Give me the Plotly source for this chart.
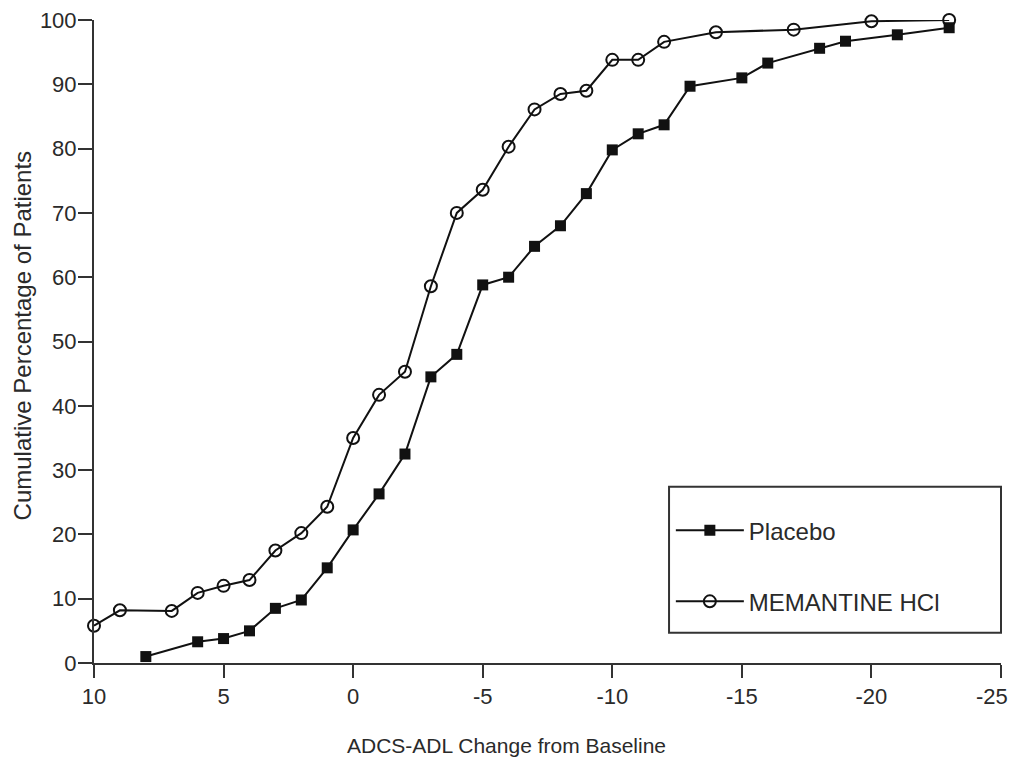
import plotly.graph_objects as go

# Data
placebo_x = [8, 6, 5, 4, 3, 2, 1, 0, -1, -2, -3, -4, -5, -6, -7, -8, -9, -10, -11, -12,
             -13, -15, -16, -18, -19, -21, -23]
placebo_y = [1.0, 3.3, 3.8, 5.0, 8.5, 9.8, 14.8, 20.7, 26.3, 32.5, 44.5, 48.0, 58.8, 60.0,
             64.8, 68.0, 73.0, 79.8, 82.3, 83.7, 89.7, 91.0, 93.3, 95.6, 96.7, 97.7, 98.8]

mem_x = [10, 9, 7, 6, 5, 4, 3, 2, 1, 0, -1, -2, -3, -4, -5, -6, -7, -8, -9, -10, -11, -12,
         -14, -17, -20, -23]
mem_y = [5.8, 8.2, 8.1, 10.9, 12.0, 12.9, 17.5, 20.2, 24.3, 35.0, 41.7, 45.3, 58.6, 70.0,
         73.6, 80.3, 86.1, 88.5, 89.0, 93.8, 93.8, 96.6, 98.1, 98.5, 99.8, 100.0]

x_ticks = [10, 5, 0, -5, -10, -15, -20, -25]
x_ticklabels = ["10", "5", "0", "-5", "-10", "-15", "-20", "-25"]
y_ticks = [0, 10, 20, 30, 40, 50, 60, 70, 80, 90, 100]

FONT = "Liberation Sans, Arial, Helvetica, sans-serif"
INK = "#2a2a2a"

# the last x tick label sits at the figure's right edge: draw it as an annotation nudged inward
axis_ticktext = x_ticklabels[:-1] + [""]

fig = go.Figure()
fig.add_trace(go.Scatter(
    x=placebo_x, y=placebo_y, mode="lines+markers", name="Placebo",
    legendgroup="a",
    line=dict(color="#111111", width=2),
    marker=dict(symbol="square", size=11, color="#111111"),
    cliponaxis=False,
))
fig.add_trace(go.Scatter(
    x=mem_x, y=mem_y, mode="lines+markers", name="MEMANTINE HCl",
    legendgroup="b",
    line=dict(color="#111111", width=2),
    marker=dict(symbol="circle-open", size=12, color="#111111", line=dict(width=2)),
    cliponaxis=False,
))

fig.update_layout(
    width=1011, height=763,
    margin=dict(l=94, r=10, t=20, b=100, autoexpand=False),
    paper_bgcolor="white", plot_bgcolor="white",
    font=dict(family=FONT, size=22, color=INK),
    showlegend=True,
    legend=dict(
        x=0.636, y=0.241, xanchor="left", yanchor="top",
        bgcolor="rgba(0,0,0,0)", borderwidth=0,
        font=dict(family=FONT, size=24, color=INK),
        itemwidth=68, tracegroupgap=37, traceorder="grouped",
    ),
    xaxis=dict(
        range=[10, -25], autorange=False, automargin=False,
        tickmode="array", tickvals=x_ticks, ticktext=axis_ticktext,
        ticks="outside", ticklen=13, tickwidth=2, tickcolor="#333333",
        showline=True, linecolor="#333333", linewidth=2,
        showgrid=False, zeroline=False,
        tickfont=dict(family=FONT, size=22, color=INK),
    ),
    yaxis=dict(
        range=[0, 100], autorange=False, automargin=False,
        tickmode="array", tickvals=y_ticks,
        ticks="outside", ticklen=14, tickwidth=2, tickcolor="#333333",
        showline=True, linecolor="#333333", linewidth=2,
        showgrid=False, zeroline=False, ticklabelstandoff=-3,
        tickfont=dict(family=FONT, size=22, color=INK),
    ),
    shapes=[dict(
        type="rect", xref="paper", yref="paper",
        x0=0.634, x1=1.0, y0=0.047, y1=0.274,
        line=dict(color="#333333", width=2), fillcolor="rgba(0,0,0,0)",
    )],
    annotations=[
        dict(text=x_ticklabels[-1], xref="x", yref="paper",
             x=x_ticks[-1], y=-0.0525, xanchor="center", yanchor="middle",
             xshift=-9, showarrow=False,
             font=dict(family=FONT, size=22, color=INK)),
        dict(text="ADCS-ADL Change from Baseline", xref="paper", yref="paper",
             x=0.455, y=-0.128, xanchor="center", yanchor="middle", showarrow=False,
             font=dict(family=FONT, size=21, color=INK)),
        dict(text="Cumulative Percentage of Patients", xref="paper", yref="paper",
             x=-0.079, y=0.51, xanchor="center", yanchor="middle", showarrow=False,
             textangle=-90, font=dict(family=FONT, size=24, color=INK)),
    ],
)

fig.write_html(
    "out.html",
    config={"displayModeBar": False},
    post_script="document.body.style.margin='0';document.body.style.overflow='hidden';",
)
